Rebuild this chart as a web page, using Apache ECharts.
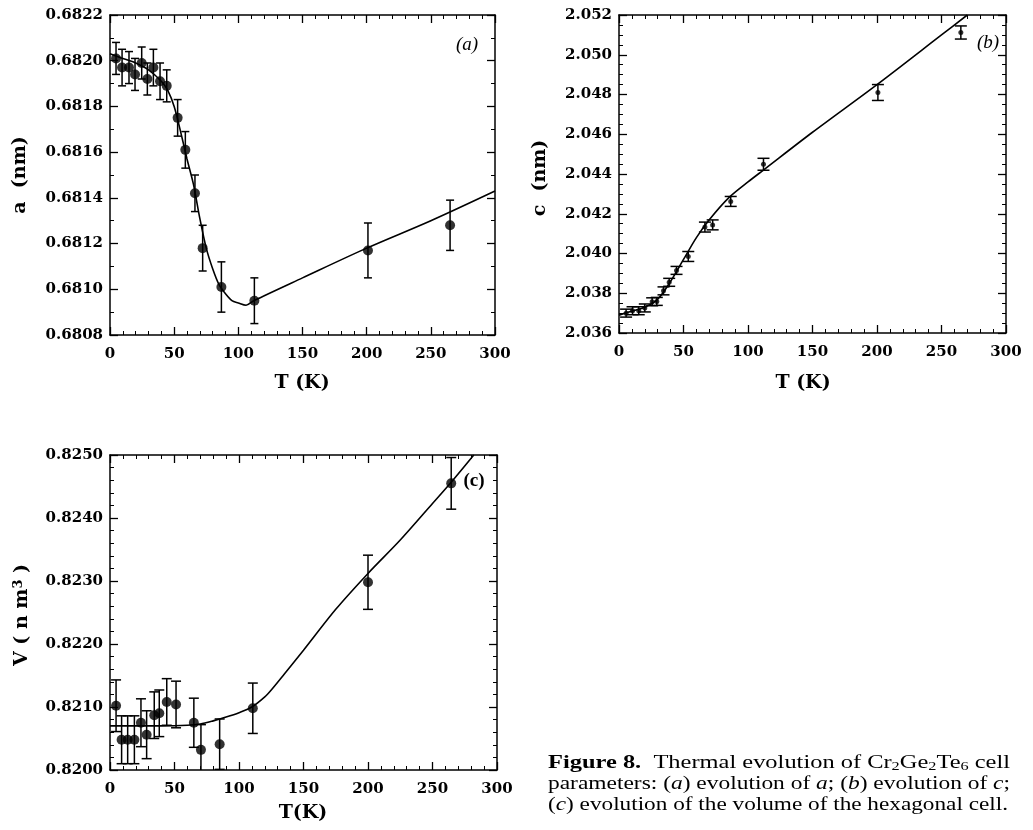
<!DOCTYPE html>
<html>
<head>
<meta charset="utf-8">
<script src="https://cdn.jsdelivr.net/npm/echarts@6/dist/echarts.min.js"></script>
<style>
html,body{margin:0;padding:0;background:#fff;}
#main{width:1033px;height:830px;}
</style>
</head>
<body>
<div id="main"></div>
<script>
// ---------------- DATA ----------------
// Panel (a): lattice parameter a (nm)
const aT   = [4.7, 9.4, 14.8, 19.5, 24.7, 29.1, 33.8, 39.0, 44.2, 52.7, 58.7, 66.2, 72.2, 86.8, 112.5, 201, 265];
const aV   = [0.68201, 0.68197, 0.68197, 0.68194, 0.68199, 0.68192, 0.68197, 0.68191, 0.68189, 0.68175, 0.68161, 0.68142, 0.68118, 0.68101, 0.68095, 0.68117, 0.68128];
const aErr = [0.00007, 0.00008, 0.00007, 0.00007, 0.00007, 0.00007, 0.00008, 0.00008, 0.00007, 0.00008, 0.00008, 0.00008, 0.00010, 0.00011, 0.00010, 0.00012, 0.00011];
const aCurveT = [0, 10, 20, 30, 40, 45, 50, 55, 60, 65, 70, 75, 80, 85, 90, 95, 100, 106, 112, 150, 200, 250, 300];
const aCurveV = [0.68203, 0.68201, 0.68199, 0.68196, 0.68191, 0.68187, 0.68180, 0.68169, 0.68157, 0.68146, 0.68131, 0.68118, 0.68109, 0.68102, 0.68098, 0.68095, 0.68094, 0.68093, 0.68095, 0.68105, 0.68118, 0.68130, 0.68143];

// Panel (b): lattice parameter c (nm)
const cT   = [5.5, 10.5, 15.3, 20, 25.7, 29.3, 34.5, 38.9, 44.6, 53.7, 66.6, 72.6, 86.6, 112, 200.7, 265];
const cV   = [2.03700, 2.03712, 2.03712, 2.03726, 2.03757, 2.03759, 2.03812, 2.03855, 2.03915, 2.03985, 2.04133, 2.04144, 2.04262, 2.04449, 2.04810, 2.05112];
const cErr = [0.0002, 0.0002, 0.0002, 0.0002, 0.0002, 0.0002, 0.0002, 0.0002, 0.0002, 0.00025, 0.00025, 0.00025, 0.00025, 0.0003, 0.0004, 0.00033];
const cCurveT = [0, 10, 20, 30, 40, 50, 60, 70, 85, 100, 112, 150, 200, 250, 270];
const cCurveV = [2.0369, 2.0371, 2.0373, 2.0377, 2.0386, 2.0397, 2.0408, 2.0417, 2.0428, 2.0436, 2.0442, 2.0461, 2.0485, 2.0510, 2.0520];

// Panel (c): cell volume V (nm^3)
const vT   = [4.7, 9.0, 13.7, 18.9, 24.0, 28.4, 34.3, 38.2, 44.0, 51.2, 65.0, 70.5, 85.0, 110.7, 200, 264.5];
const vV   = [0.82102, 0.82048, 0.82048, 0.82048, 0.82075, 0.82056, 0.82087, 0.82090, 0.82108, 0.82104, 0.82075, 0.82032, 0.82041, 0.82098, 0.82298, 0.82455];
const vErr = [0.00041, 0.00038, 0.00038, 0.00038, 0.00038, 0.00038, 0.00037, 0.00037, 0.00037, 0.00037, 0.00039, 0.00040, 0.00040, 0.00040, 0.00043, 0.00041];
const vCurveT = [0, 20, 40, 60, 70, 80, 90, 100, 110, 120, 125, 135, 150, 175, 200, 225, 250, 265, 282];
const vCurveV = [0.82070, 0.82070, 0.82070, 0.82071, 0.82073, 0.82078, 0.82084, 0.82091, 0.82100, 0.82116, 0.82127, 0.82152, 0.82190, 0.82255, 0.82312, 0.82365, 0.82423, 0.82458, 0.82500];

// Axis ranges / ticks
const tRange = [0, 300, 50];
const aRange = [0.6808, 0.6822, 0.0002];
const cRange = [2.036, 2.052, 0.002];
const vRange = [0.8200, 0.8250, 0.0010];

// Texts
const aName = 'a  (nm)';
const cName = 'c  (nm)';
const tName = 'T (K)';
const tNameC = 'T(K)';

// ---------------- CHART ----------------
const chart = echarts.init(document.getElementById('main'), null, {renderer: 'canvas'});
const BLACK = '#000';
const labelFont = {fontFamily: 'DejaVu Serif', fontWeight: 'bold', fontSize: 15, color: BLACK};

function xAx(gi, pos, showLabel) {
  return {
    type: 'value', gridIndex: gi, position: pos, min: tRange[0], max: tRange[1], interval: tRange[2],
    axisLine: {show: true, onZero: false, lineStyle: {color: BLACK, width: 1.5}},
    axisTick: {show: true, inside: true, length: 8, lineStyle: {color: BLACK, width: 1.3}},
    minorTick: {show: true, splitNumber: 5, length: 4, lineStyle: {color: BLACK, width: 1}},
    axisLabel: Object.assign({show: showLabel, margin: 12}, labelFont),
    splitLine: {show: false}, minorSplitLine: {show: false}
  };
}
function yAx(gi, pos, showLabel, r, dec, minorSplit) {
  return {
    type: 'value', gridIndex: gi, position: pos, min: r[0], max: r[1], interval: r[2],
    axisLine: {show: true, onZero: false, lineStyle: {color: BLACK, width: 1.5}},
    axisTick: {show: true, inside: true, length: 8, lineStyle: {color: BLACK, width: 1.3}},
    minorTick: {show: true, splitNumber: minorSplit, length: 4, lineStyle: {color: BLACK, width: 1}},
    axisLabel: Object.assign({show: showLabel, margin: 7, formatter: v => v.toFixed(dec)}, labelFont),
    splitLine: {show: false}, minorSplitLine: {show: false}
  };
}
function errRender(capW) {
  return function (params, api) {
    const x = api.value(0), y = api.value(1), e = api.value(2);
    const top = api.coord([x, y + e]);
    const bot = api.coord([x, y - e]);
    const st = {stroke: BLACK, lineWidth: 1.5};
    return {
      type: 'group',
      children: [
        {type: 'line', shape: {x1: top[0], y1: top[1], x2: bot[0], y2: bot[1]}, style: st},
        {type: 'line', shape: {x1: top[0] - capW, y1: top[1], x2: top[0] + capW, y2: top[1]}, style: st},
        {type: 'line', shape: {x1: bot[0] - capW, y1: bot[1], x2: bot[0] + capW, y2: bot[1]}, style: st}
      ]
    };
  };
}
const zip2 = (xs, ys) => xs.map((x, i) => [x, ys[i]]);
const zip3 = (xs, ys, es) => xs.map((x, i) => [x, ys[i], es[i]]);

function panelSeries(xi, yi, T, V, E, CT, CV, sym, capW) {
  return [
    {type: 'line', xAxisIndex: xi, yAxisIndex: yi, data: zip2(CT, CV), smooth: 0.3,
     showSymbol: false, symbol: 'none', lineStyle: {color: BLACK, width: 1.6}, clip: true, z: 2},
    {type: 'custom', xAxisIndex: xi, yAxisIndex: yi, data: zip3(T, V, E), renderItem: errRender(capW),
     encode: {x: 0, y: 1}, clip: true, z: 3},
    {type: 'scatter', xAxisIndex: xi, yAxisIndex: yi, data: zip2(T, V), symbol: 'circle', symbolSize: sym,
     itemStyle: {color: BLACK}, z: 4}
  ];
}

// Caption measurement (for justification by horizontal scale)
const mctx = document.createElement('canvas').getContext('2d');
function measure(parts) {
  let w = 0;
  parts.forEach(p => { mctx.font = p[1]; w += mctx.measureText(p[0]).width; });
  return w;
}
const capSize = 18, subSize = 12;
const fN = capSize + 'px "Liberation Serif"';
const fB = 'bold ' + capSize + 'px "Liberation Serif"';
const fI = 'italic ' + capSize + 'px "Liberation Serif"';
const fS = subSize + 'px "Liberation Serif"';
const capLines = [
  {text: '{b|Figure 8.}  Thermal evolution of Cr{s|2}Ge{s|2}Te{s|6} cell',
   parts: [['Figure 8.', fB], ['  Thermal evolution of Cr', fN], ['2', fS], ['Ge', fN], ['2', fS], ['Te', fN], ['6', fS], [' cell', fN]],
   y: 763, w: 462},
  {text: 'parameters: ({i|a}) evolution of {i|a}; ({i|b}) evolution of {i|c};',
   parts: [['parameters: (', fN], ['a', fI], [') evolution of ', fN], ['a', fI], ['; (', fN], ['b', fI], [') evolution of ', fN], ['c', fI], [';', fN]],
   y: 784, w: 462},
  {text: '({i|c}) evolution of the volume of the hexagonal cell.',
   parts: [['(', fN], ['c', fI], [') evolution of the volume of the hexagonal cell.', fN]],
   y: 805, w: 460}
];
const capRich = {
  b: {fontWeight: 'bold', fontSize: capSize, fontFamily: 'Liberation Serif', fill: BLACK},
  i: {fontStyle: 'italic', fontSize: capSize, fontFamily: 'Liberation Serif', fill: BLACK},
  s: {fontSize: subSize, fontFamily: 'Liberation Serif', fill: BLACK, verticalAlign: 'bottom', lineHeight: 14}
};
const capGraphics = capLines.map(l => {
  const sx = l.w / measure(l.parts);
  return {
    type: 'text', x: 548, y: l.y, scaleX: sx, originX: 0,
    style: {text: l.text, rich: capRich, fontSize: capSize, fontFamily: 'Liberation Serif', fill: BLACK,
            align: 'left', verticalAlign: 'middle', lineHeight: 20}
  };
});

const nameStyle = {fontFamily: 'DejaVu Serif', fontWeight: 'bold', fontSize: 19, fill: BLACK, align: 'center', verticalAlign: 'middle'};

const option = {
  animation: false,
  backgroundColor: '#fff',
  grid: [
    {left: 110, top: 15, width: 385, height: 320, containLabel: false},
    {left: 619, top: 15, width: 387, height: 318, containLabel: false},
    {left: 110, top: 455, width: 387, height: 315, containLabel: false}
  ],
  xAxis: [
    xAx(0, 'bottom', true), xAx(0, 'top', false),
    xAx(1, 'bottom', true), xAx(1, 'top', false),
    xAx(2, 'bottom', true), xAx(2, 'top', false)
  ],
  yAxis: [
    yAx(0, 'left', true, aRange, 4, 2), yAx(0, 'right', false, aRange, 4, 2),
    yAx(1, 'left', true, cRange, 3, 4), yAx(1, 'right', false, cRange, 3, 4),
    yAx(2, 'left', true, vRange, 4, 5), yAx(2, 'right', false, vRange, 4, 5)
  ],
  series: [].concat(
    panelSeries(0, 0, aT, aV, aErr, aCurveT, aCurveV, 10, 4),
    panelSeries(2, 2, cT, cV, cErr, cCurveT, cCurveV, 5, 6),
    panelSeries(4, 4, vT, vV, vErr, vCurveT, vCurveV, 10, 5)
  ),
  graphic: [
    {type: 'text', x: 20, y: 175, rotation: Math.PI / 2, style: Object.assign({text: aName}, nameStyle)},
    {type: 'text', x: 540, y: 178, rotation: Math.PI / 2, style: Object.assign({text: cName}, nameStyle)},
    {type: 'text', x: 22, y: 615, rotation: Math.PI / 2,
     style: Object.assign({text: 'V ( n m{sup|3} )',
       rich: {sup: {fontFamily: 'DejaVu Serif', fontWeight: 'bold', fontSize: 13, verticalAlign: 'top', lineHeight: 10, fill: BLACK}}}, nameStyle)},
    {type: 'text', x: 302, y: 383, style: Object.assign({text: tName}, nameStyle)},
    {type: 'text', x: 803, y: 383, style: Object.assign({text: tName}, nameStyle)},
    {type: 'text', x: 303, y: 813, style: Object.assign({text: tNameC}, nameStyle)},
    {type: 'text', x: 467, y: 45, style: {text: '(a)', fontFamily: 'Liberation Serif', fontStyle: 'italic', fontSize: 19, fill: BLACK, align: 'center', verticalAlign: 'middle'}},
    {type: 'text', x: 988, y: 43, style: {text: '(b)', fontFamily: 'Liberation Serif', fontStyle: 'italic', fontSize: 19, fill: BLACK, align: 'center', verticalAlign: 'middle'}},
    {type: 'text', x: 474, y: 481, style: {text: '(c)', fontFamily: 'Liberation Serif', fontWeight: 'bold', fontSize: 19, fill: BLACK, align: 'center', verticalAlign: 'middle'}}
  ].concat(capGraphics)
};
chart.setOption(option);
</script>
</body>
</html>
